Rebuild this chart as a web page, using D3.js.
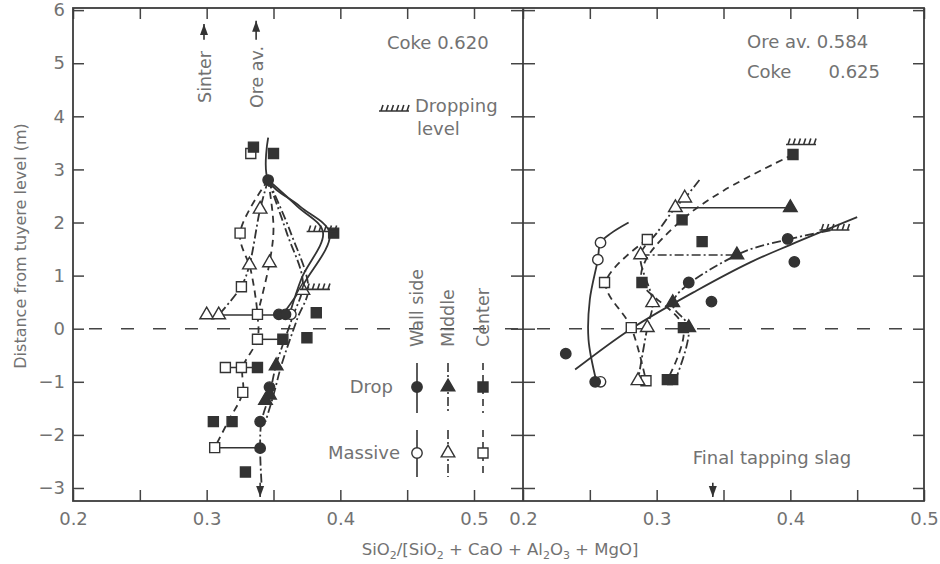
<!DOCTYPE html>
<html>
<head>
<meta charset="utf-8">
<script src="https://cdn.jsdelivr.net/npm/d3@7"></script>
<style>
  body { margin: 0; background: #fff; }
  text { font-family: "DejaVu Sans", sans-serif; fill: #727272; }
</style>
</head>
<body>
<script>
// axis ticks and labels
var xTicks = [0.2, 0.25, 0.3, 0.35, 0.4, 0.45, 0.5];
var xLabels = [0.2, 0.3, 0.4, 0.5];
var yTicks = [-3, -2, -1, 0, 1, 2, 3, 4, 5, 6];

// left panel (coke 0.620): curves [x, distance]
var wallDropL = [[0.346, 3.6], [0.346, 2.8], [0.37, 2.3], [0.392, 1.8], [0.374, 0.9], [0.357, 0.27]];
var wallMassL = [[0.346, 2.8], [0.368, 2.3], [0.387, 1.82], [0.371, 0.95], [0.362, 0.27]];
var midDropL = [[0.346, 2.8], [0.36, 1.8], [0.372, 0.85], [0.364, 0.2], [0.352, -0.68], [0.347, -1.25], [0.341, -1.75], [0.34, -2.25], [0.341, -2.9]];
var midMassL = [[0.346, 2.8], [0.363, 1.8], [0.376, 0.75], [0.368, 0.2], [0.356, -0.68], [0.35, -1.25], [0.344, -1.75]];
var midMassL2 = [[0.346, 2.8], [0.34, 2.25], [0.332, 1.2], [0.326, 0.8], [0.309, 0.26]];
var centerMassL = [[0.346, 2.8], [0.325, 1.8], [0.333, 1.1], [0.338, 0.27], [0.338, -0.2], [0.327, -0.73], [0.327, -1.2], [0.316, -1.75], [0.306, -2.24]];
var centerDropL = [[0.346, 2.8], [0.35, 1.9], [0.347, 1.24], [0.338, 0.27]];

// left panel points
var fillSqL = [[0.335, 3.42], [0.35, 3.3], [0.395, 1.8], [0.382, 0.3], [0.375, -0.17], [0.357, -0.2], [0.338, -0.73], [0.319, -1.75], [0.305, -1.75], [0.329, -2.7]];
var fillCircL = [[0.346, 2.8], [0.354, 0.27], [0.359, 0.27], [0.347, -1.1], [0.34, -1.75], [0.34, -2.25]];
var fillTriL = [[0.352, -0.7], [0.347, -1.25], [0.344, -1.35]];
var openTriL = [[0.3, 0.26], [0.309, 0.26], [0.34, 2.25], [0.332, 1.2], [0.347, 1.24], [0.372, 0.72]];
var openSqL = [[0.333, 3.3], [0.325, 1.8], [0.326, 0.79], [0.338, 0.27], [0.338, -0.2], [0.314, -0.73], [0.326, -0.73], [0.327, -1.2], [0.306, -2.24]];
var openCircL = [[0.363, 0.27]];
var hatchL = [[0.386, 1.83], [0.381, 0.74]];
var linksL = [[0.309, 0.363, 0.26], [0.338, 0.357, -0.2], [0.314, 0.338, -0.73], [0.306, 0.34, -2.24]];

// right panel (ore av. 0.584, coke 0.625)
var wallDropR = [[0.239, -0.77], [0.281, 0], [0.33, 0.72], [0.37, 1.25], [0.4, 1.58], [0.45, 2.1]];
var wallMassR = [[0.279, 2.0], [0.266, 1.8], [0.258, 1.62], [0.256, 1.3], [0.25, 0.55], [0.249, -0.2], [0.255, -1.0]];
var midMassR = [[0.332, 2.8], [0.321, 2.46], [0.314, 2.28], [0.3, 1.8], [0.288, 1.39], [0.297, 0.49], [0.293, 0.02], [0.286, -0.98]];
var centerMassR = [[0.293, 1.68], [0.262, 0.87], [0.281, 0.02], [0.292, -0.98]];
var centerDropR = [[0.402, 3.28], [0.35, 2.6], [0.319, 2.05], [0.292, 1.3], [0.289, 0.87], [0.32, 0.02], [0.308, -0.96]];
var midDropR = [[0.43, 1.85], [0.4, 1.69], [0.36, 1.39], [0.312, 0.49], [0.324, 0.02], [0.314, -0.96]];

var fillCircR = [[0.398, 1.69], [0.403, 1.26], [0.324, 0.87], [0.341, 0.51], [0.232, -0.47], [0.254, -1.0]];
var fillSqR = [[0.402, 3.28], [0.319, 2.05], [0.334, 1.64], [0.289, 0.87], [0.32, 0.02], [0.308, -0.96], [0.312, -0.96]];
var fillTriR = [[0.4, 2.28], [0.36, 1.39], [0.312, 0.49], [0.324, 0.02]];
var openCircR = [[0.258, 1.62], [0.256, 1.3], [0.258, -1.0]];
var openSqR = [[0.293, 1.68], [0.261, 0.87], [0.281, 0.02], [0.292, -0.98]];
var openTriR = [[0.321, 2.46], [0.314, 2.28], [0.288, 1.39], [0.297, 0.49], [0.293, 0.02], [0.286, -0.98]];
var hatchR = [[0.408, 3.47], [0.433, 1.86]];
var linksR = [[0.314, 0.4, 2.28, "solid"], [0.288, 0.36, 1.39, "dashdot"]];

var ink = "#333";
var dashes = { solid: null, dashed: "7,5", dashdot: "9,3,2,3" };

var svg = d3.select("body").append("svg")
    .attr("width", 940)
    .attr("height", 564);

var yScale = d3.scaleLinear().domain([-3.245, 6.04]).range([501, 8]);
var xLeft = d3.scaleLinear().domain([0.2, 0.5]).range([73, 474]);
var xRight = d3.scaleLinear().domain([0.2, 0.5]).range([523, 924]);

function styleAxis(g) {
  g.select(".domain").remove();
  g.selectAll(".tick line").attr("stroke", "#444").attr("stroke-width", 1.5);
  g.selectAll(".tick text").attr("font-size", 18).attr("fill", "#727272");
  g.attr("font-family", null);
}

// x axes for both panels
[xLeft, xRight].forEach(function(xs) {
  svg.append("g")
      .attr("transform", "translate(0,501)")
      .call(d3.axisBottom(xs).tickValues(xTicks).tickSize(-11).tickPadding(11)
        .tickFormat(function(d) { return xLabels.indexOf(d) >= 0 ? d3.format(".1f")(d) : ""; }))
      .call(styleAxis);
  svg.append("g")
      .attr("transform", "translate(0,8)")
      .call(d3.axisTop(xs).tickValues(xTicks).tickSize(-11).tickFormat(""))
      .call(styleAxis);
});

// y axes
svg.append("g")
    .attr("transform", "translate(73,0)")
    .call(d3.axisLeft(yScale).tickValues(yTicks).tickSize(-11).tickPadding(8))
    .call(styleAxis);
svg.append("g")
    .attr("transform", "translate(924,0)")
    .call(d3.axisRight(yScale).tickValues(yTicks).tickSize(-11).tickFormat(""))
    .call(styleAxis);
svg.append("g")
    .attr("transform", "translate(523,0)")
    .call(d3.axisRight(yScale).tickValues(yTicks).tickSize(12).tickFormat(""))
    .call(styleAxis);
svg.append("g")
    .attr("transform", "translate(523,0)")
    .call(d3.axisLeft(yScale).tickValues(yTicks).tickSize(12).tickFormat(""))
    .call(styleAxis);

// frame
svg.append("rect")
    .attr("x", 73).attr("y", 8)
    .attr("width", 851).attr("height", 493)
    .style("fill", "none").style("stroke", "#3c3c3c").style("stroke-width", 1.8);
svg.append("line")
    .attr("x1", 523).attr("x2", 523).attr("y1", 8).attr("y2", 501)
    .style("stroke", "#3c3c3c").style("stroke-width", 1.8);

// tuyere level dashed line
svg.append("line")
    .attr("x1", xLeft(0.2) + 16).attr("x2", xRight(0.5) - 12)
    .attr("y1", yScale(0)).attr("y2", yScale(0))
    .style("stroke", "#444").style("stroke-width", 1.6)
    .style("stroke-dasharray", "13,19");

// axis titles
svg.append("text")
    .attr("transform", "translate(26,246) rotate(-90)")
    .attr("text-anchor", "middle")
    .attr("font-size", 16)
    .text("Distance from tuyere level (m)");

var xt = svg.append("text")
    .attr("x", 500).attr("y", 555)
    .attr("text-anchor", "middle")
    .attr("font-size", 16.5);
[["SiO", 0], ["2", 1], ["/[SiO", 0], ["2", 1], [" + CaO + Al", 0], ["2", 1], ["O", 0], ["3", 1], [" + MgO]", 0]].forEach(function(p) {
  var t = xt.append("tspan").text(p[0]);
  if (p[1]) t.attr("font-size", 11).attr("dy", 4);
  else t.attr("dy", p[0] === "SiO" ? 0 : -4);
});

var line = function(xs) {
  return d3.line()
    .x(function(d) { return xs(d[0]); })
    .y(function(d) { return yScale(d[1]); })
    .curve(d3.curveCatmullRom.alpha(0.5));
};

function drawCurve(xs, data, style) {
  svg.append("path")
      .datum(data)
      .attr("d", line(xs))
      .style("fill", "none")
      .style("stroke", ink)
      .style("stroke-width", 1.8)
      .style("stroke-dasharray", dashes[style]);
}

var shapes = { circle: d3.symbolCircle, square: d3.symbolSquare, triangle: d3.symbolTriangle };
var sizes = { circle: 85, square: 100, triangle: 80 };

function drawPoints(xs, data, shape, filled) {
  svg.append("g").selectAll("path")
    .data(data)
    .enter().append("path")
      .attr("transform", function(d) { return "translate(" + xs(d[0]) + "," + yScale(d[1]) + ")"; })
      .attr("d", d3.symbol().type(shapes[shape]).size(sizes[shape]))
      .style("fill", filled ? ink : "#fff")
      .style("stroke", ink)
      .style("stroke-width", 1.4);
}

function drawLinks(xs, data) {
  svg.append("g").selectAll("line")
    .data(data)
    .enter().append("line")
      .attr("x1", function(d) { return xs(d[0]); })
      .attr("x2", function(d) { return xs(d[1]); })
      .attr("y1", function(d) { return yScale(d[2]); })
      .attr("y2", function(d) { return yScale(d[2]); })
      .style("stroke", ink)
      .style("stroke-width", 1.5)
      .style("stroke-dasharray", function(d) { return dashes[d[3] || "solid"]; });
}

// dropping level mark: a base line with small hooks
function hatchPath(cx, cy, w) {
  var p = "M" + (cx - w / 2) + "," + cy + "H" + (cx + w / 2);
  for (var i = 0; i < 6; i++) {
    var x = cx - w / 2 + 2 + i * (w - 4) / 5;
    p += "M" + x + "," + cy + "l2,-6";
  }
  return p;
}
function drawHatch(xs, data) {
  svg.append("g").selectAll("path")
    .data(data)
    .enter().append("path")
      .attr("d", function(d) { return hatchPath(xs(d[0]), yScale(d[1]), 30); })
      .style("fill", "none").style("stroke", ink).style("stroke-width", 1.6);
}

// left panel
drawCurve(xLeft, wallDropL, "solid");
drawCurve(xLeft, wallMassL, "solid");
drawCurve(xLeft, midDropL, "dashdot");
drawCurve(xLeft, midMassL, "dashdot");
drawCurve(xLeft, midMassL2, "dashdot");
drawCurve(xLeft, centerMassL, "dashed");
drawCurve(xLeft, centerDropL, "dashed");
drawLinks(xLeft, linksL);
drawPoints(xLeft, openSqL, "square", false);
drawPoints(xLeft, openTriL, "triangle", false);
drawPoints(xLeft, openCircL, "circle", false);
drawPoints(xLeft, fillSqL, "square", true);
drawPoints(xLeft, fillCircL, "circle", true);
drawPoints(xLeft, fillTriL, "triangle", true);
drawHatch(xLeft, hatchL);

// right panel
drawCurve(xRight, wallDropR, "solid");
drawCurve(xRight, wallMassR, "solid");
drawCurve(xRight, midMassR, "dashdot");
drawCurve(xRight, centerMassR, "dashed");
drawCurve(xRight, centerDropR, "dashed");
drawCurve(xRight, midDropR, "dashdot");
drawLinks(xRight, linksR);
drawPoints(xRight, openSqR, "square", false);
drawPoints(xRight, openTriR, "triangle", false);
drawPoints(xRight, openCircR, "circle", false);
drawPoints(xRight, fillSqR, "square", true);
drawPoints(xRight, fillCircR, "circle", true);
drawPoints(xRight, fillTriR, "triangle", true);
drawHatch(xRight, hatchR);

// arrows (sinter, ore average, final tapping slag)
function arrow(x, y1, y2) {
  svg.append("line")
      .attr("x1", x).attr("x2", x).attr("y1", y1).attr("y2", y2)
      .style("stroke", ink).style("stroke-width", 1.6);
  var dir = y2 < y1 ? 1 : -1;
  svg.append("path")
      .attr("d", "M" + x + "," + y2 + "l-4," + (dir * 11) + "h8z")
      .style("fill", ink);
}
arrow(xLeft(0.298), yScale(5.44), yScale(5.74));
arrow(xLeft(0.337), yScale(5.44), yScale(5.8));
arrow(xLeft(0.34), yScale(-2.9), yScale(-3.17));
arrow(xRight(0.342), yScale(-2.9), yScale(-3.17));

function rotText(x, y, txt, anchor) {
  svg.append("text")
      .attr("transform", "translate(" + x + "," + y + ") rotate(-90)")
      .attr("text-anchor", anchor)
      .attr("font-size", 17.5)
      .text(txt);
}
rotText(211, 77, "Sinter", "middle");
rotText(263, 77, "Ore av.", "middle");

function label(x, y, txt, anchor) {
  svg.append("text")
      .attr("x", x).attr("y", y)
      .attr("text-anchor", anchor || "start")
      .attr("font-size", 18)
      .text(txt);
}
label(387, 49, "Coke 0.620");
svg.append("path").attr("d", hatchPath(394, 111, 30))
    .style("fill", "none").style("stroke", ink).style("stroke-width", 1.6);
label(415, 112, "Dropping");
label(417, 135, "level");
label(747, 48, "Ore av. 0.584");
label(747, 78, "Coke");
label(880, 78, "0.625", "end");
label(772, 464, "Final tapping slag", "middle");

// legend: wall side / middle / center, drop / massive
var legendCols = [["Wall side", 417, "solid", "circle"], ["Middle", 448, "dashdot", "triangle"], ["Center", 483, "dashed", "square"]];
legendCols.forEach(function(c) {
  rotText(c[1] + 6, 347, c[0], "start");
  [[363, 413, 387, true], [430, 477, 453, false]].forEach(function(r) {
    svg.append("line")
        .attr("x1", c[1]).attr("x2", c[1]).attr("y1", r[0]).attr("y2", r[1])
        .style("stroke", ink).style("stroke-width", 1.6)
        .style("stroke-dasharray", dashes[c[2]]);
    svg.append("path")
        .attr("transform", "translate(" + c[1] + "," + r[2] + ")")
        .attr("d", d3.symbol().type(shapes[c[3]]).size(sizes[c[3]]))
        .style("fill", r[3] ? ink : "#fff")
        .style("stroke", ink).style("stroke-width", 1.4);
  });
});
label(393, 393, "Drop", "end");
label(400, 459, "Massive", "end");
</script>
</body>
</html>
